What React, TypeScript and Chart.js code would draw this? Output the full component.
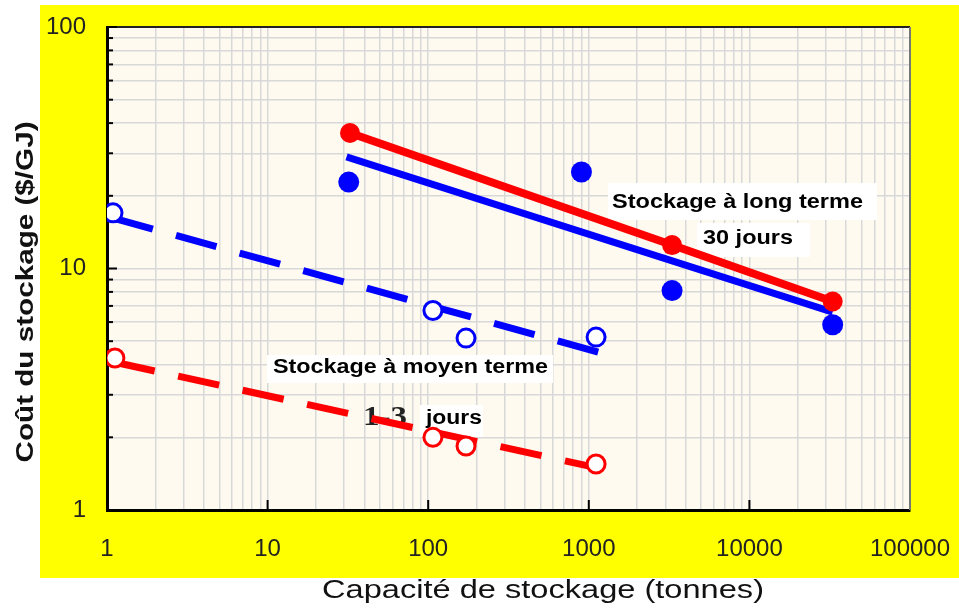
import React, { useEffect, useRef } from 'react';
import { Chart, registerables } from 'chart.js';
Chart.register(...registerables);

// ---- data ----
const LONG_RED_X = [32.6, 3300, 33000];
const LONG_RED_Y = [36.4, 12.5, 7.3];
const LONG_BLUE_X = [32, 900, 3300, 33000];
const LONG_BLUE_Y = [22.8, 25.1, 8.1, 5.85];
const LONG_BLUE_FIT_X = [31, 33000];
const LONG_BLUE_FIT_Y = [29, 6.6];
const MID_BLUE_X = [1.09, 107, 172, 1110];
const MID_BLUE_Y = [17.0, 6.7, 5.15, 5.2];
const MID_BLUE_FIT_X = [1.08, 1150];
const MID_BLUE_FIT_Y = [16.2, 4.5];
const MID_RED_X = [1.12, 107, 172, 1110];
const MID_RED_Y = [4.26, 2.0, 1.84, 1.55];
const MID_RED_FIT_X = [1.1, 1150];
const MID_RED_FIT_Y = [4.1, 1.49];

const X_TICK_VALUES = [1, 10, 100, 1000, 10000, 100000];
const X_TICK_LABELS = ['1', '10', '100', '1000', '10000', '100000'];
const Y_TICK_VALUES = [1, 10, 100];
const Y_TICK_LABELS = ['1', '10', '100'];
const SUB_STEPS = [1, 2, 3, 4, 5, 6, 7, 8, 9];

const X_TITLE = 'Capacité de stockage (tonnes)';
const Y_TITLE = 'Coût du stockage ($/GJ)';
const NOTE_LONG = 'Stockage à long terme';
const NOTE_LONG_DAYS = '30 jours';
const NOTE_MID = 'Stockage à moyen terme';
const NOTE_MID_NUM = '1-3';
const NOTE_MID_DAYS = 'jours';

const RED = '#ff0000';
const BLUE = '#0000ff';

function gridValues(majors: number[]) {
  const out: number[] = [];
  for (let i = 0; i < majors.length - 1; i++) {
    for (const s of SUB_STEPS) out.push(majors[i] * s);
  }
  out.push(majors[majors.length - 1]);
  return out;
}

function zip(xs: number[], ys: number[]) {
  return xs.map((x, i) => ({ x, y: ys[i] }));
}

function fitText(ctx: CanvasRenderingContext2D, text: string, x: number, y: number, font: string, width: number, align: CanvasTextAlign, color: string, rot = 0) {
  ctx.save();
  ctx.font = font;
  ctx.fillStyle = color;
  ctx.textBaseline = 'middle';
  ctx.textAlign = align;
  const w = ctx.measureText(text).width;
  ctx.translate(x, y);
  if (rot) ctx.rotate(rot);
  ctx.scale(width / w, 1);
  ctx.fillText(text, 0, 0);
  ctx.restore();
}

const decorPlugin = {
  id: 'decor',
  beforeDraw(chart: any) {
    const { ctx, chartArea: a } = chart;
    ctx.save();
    ctx.fillStyle = '#ffffff';
    ctx.fillRect(0, 0, chart.width, chart.height);
    ctx.fillStyle = '#ffff00';
    ctx.fillRect(40, 5, chart.width - 40, 573);
    ctx.fillStyle = '#fefaef';
    ctx.fillRect(a.left, a.top, a.right - a.left, a.bottom - a.top);
    ctx.restore();
  },
  beforeDatasetsDraw(chart: any) {
    const { ctx, chartArea: a, scales } = chart;
    ctx.save();
    // top and right frame
    ctx.strokeStyle = '#222';
    ctx.lineWidth = 2;
    ctx.beginPath();
    ctx.moveTo(a.left, a.top);
    ctx.lineTo(a.right, a.top);
    ctx.stroke();
    ctx.strokeStyle = '#777';
    ctx.beginPath();
    ctx.moveTo(a.right, a.top);
    ctx.lineTo(a.right, a.bottom);
    ctx.stroke();
    // inward tick marks
    ctx.strokeStyle = '#000';
    ctx.lineWidth = 2;
    for (const v of gridValues(Y_TICK_VALUES)) {
      const y = scales.y.getPixelForValue(v);
      const major = Y_TICK_VALUES.includes(v);
      ctx.beginPath();
      ctx.moveTo(a.left, y);
      ctx.lineTo(a.left + (major ? 10 : 6), y);
      ctx.stroke();
    }
    for (const v of X_TICK_VALUES.slice(1, -1)) {
      const x = scales.x.getPixelForValue(v);
      ctx.beginPath();
      ctx.moveTo(x, a.bottom);
      ctx.lineTo(x, a.bottom - 10);
      ctx.stroke();
    }
    // annotation boxes
    const L = a.left, T = a.top;
    ctx.fillStyle = '#ffffff';
    ctx.fillRect(L + 501, T + 156, 269, 37);
    ctx.fillRect(L + 590, T + 196, 113, 34);
    ctx.fillRect(L + 160, T + 328, 286, 28);
    ctx.fillRect(L + 313, T + 378, 63, 32);
    const bold = 'bold 20px "Liberation Sans", Arial, sans-serif';
    fitText(ctx, NOTE_LONG, L + 505, T + 175, bold, 251, 'left', '#000');
    fitText(ctx, NOTE_LONG_DAYS, L + 596, T + 211, bold, 90, 'left', '#000');
    fitText(ctx, NOTE_MID, L + 166, T + 340, bold, 275, 'left', '#000');
    fitText(ctx, NOTE_MID_DAYS, L + 319, T + 391, bold, 56, 'left', '#000');
    fitText(ctx, NOTE_MID_NUM, L + 256, T + 391, 'bold 28px "Liberation Serif", "Times New Roman", serif', 44, 'left', '#222');
    ctx.restore();
  },
  afterDraw(chart: any) {
    const { ctx } = chart;
    fitText(ctx, X_TITLE, 543, 591, '26px "Liberation Sans Narrow", "Arial Narrow", "Liberation Sans", Arial, sans-serif', 442, 'center', '#111');
    fitText(ctx, Y_TITLE, 27, 292, 'bold 23px "Liberation Sans", Arial, sans-serif', 341, 'center', '#111', -Math.PI / 2);
  },
};

export default function App() {
  const ref = useRef<HTMLCanvasElement>(null);
  useEffect(() => {
    if (!ref.current) return;
    const xGrid = gridValues(X_TICK_VALUES);
    const yGrid = gridValues(Y_TICK_VALUES);
    const tickFont = { family: '"Liberation Sans", Arial, sans-serif', size: 24 };
    const chart = new Chart(ref.current, {
      type: 'scatter',
      data: {
        datasets: [
          { label: 'long red', data: zip(LONG_RED_X, LONG_RED_Y), showLine: true, borderColor: RED, backgroundColor: RED, borderWidth: 8, pointRadius: 10, pointBorderWidth: 0, pointBackgroundColor: RED, order: 1 },
          { label: 'long blue pts', data: zip(LONG_BLUE_X, LONG_BLUE_Y), showLine: false, pointRadius: 10.5, pointBorderWidth: 0, pointBackgroundColor: BLUE, borderColor: BLUE, order: 2 },
          { label: 'long blue fit', data: zip(LONG_BLUE_FIT_X, LONG_BLUE_FIT_Y), showLine: true, borderColor: BLUE, borderWidth: 7, pointRadius: 0, order: 3 },
          { label: 'mid blue pts', data: zip(MID_BLUE_X, MID_BLUE_Y), showLine: false, pointRadius: 9, pointBorderWidth: 3, pointBorderColor: BLUE, pointBackgroundColor: '#ffffff', order: 4 },
          { label: 'mid red pts', data: zip(MID_RED_X, MID_RED_Y), showLine: false, pointRadius: 9, pointBorderWidth: 3, pointBorderColor: RED, pointBackgroundColor: '#ffffff', order: 5 },
          { label: 'mid blue fit', data: zip(MID_BLUE_FIT_X, MID_BLUE_FIT_Y), showLine: true, borderColor: BLUE, borderWidth: 7, borderDash: [42, 24], pointRadius: 0, order: 6 },
          { label: 'mid red fit', data: zip(MID_RED_FIT_X, MID_RED_FIT_Y), showLine: true, borderColor: RED, borderWidth: 7, borderDash: [42, 24], pointRadius: 0, order: 7 },
        ] as any,
      },
      options: {
        animation: false,
        responsive: false,
        devicePixelRatio: 1,
        layout: { padding: { left: 0, top: 27, right: 49, bottom: 0 } },
        plugins: { legend: { display: false }, tooltip: { enabled: false } },
        elements: { line: { tension: 0, borderCapStyle: 'butt' } },
        scales: {
          x: {
            type: 'logarithmic',
            min: 1,
            max: 100000,
            afterFit: (s: any) => { s.height = 100; s.paddingLeft = 0; s.paddingRight = 0; },
            afterBuildTicks: (s: any) => { s.ticks = xGrid.map((v) => ({ value: v })); },
            ticks: {
              autoSkip: false,
              maxRotation: 0,
              padding: 25,
              color: '#222',
              font: tickFont,
              callback: (v: any) => { const i = X_TICK_VALUES.indexOf(Number(v)); return i >= 0 ? X_TICK_LABELS[i] : ''; },
            },
            grid: { color: '#d8d8d8', lineWidth: 1.5, drawTicks: false },
            border: { display: true, color: '#000', width: 3 },
          },
          y: {
            type: 'logarithmic',
            min: 1,
            max: 100,
            afterFit: (s: any) => { s.width = 107; s.paddingTop = 0; s.paddingBottom = 0; },
            afterBuildTicks: (s: any) => { s.ticks = yGrid.map((v) => ({ value: v })); },
            ticks: {
              autoSkip: false,
              padding: 21,
              color: '#222',
              font: tickFont,
              callback: (v: any) => { const i = Y_TICK_VALUES.indexOf(Number(v)); return i >= 0 ? Y_TICK_LABELS[i] : ''; },
            },
            grid: { color: '#d8d8d8', lineWidth: 1.5, drawTicks: false },
            border: { display: true, color: '#000', width: 3 },
          },
        },
      } as any,
      plugins: [decorPlugin],
    });
    return () => chart.destroy();
  }, []);
  return (
    <div style={{ position: 'fixed', left: 0, top: 0, width: 959, height: 610, background: '#fff' }}>
      <canvas ref={ref} width={959} height={610} style={{ width: 959, height: 610, display: 'block' }} />
    </div>
  );
}
